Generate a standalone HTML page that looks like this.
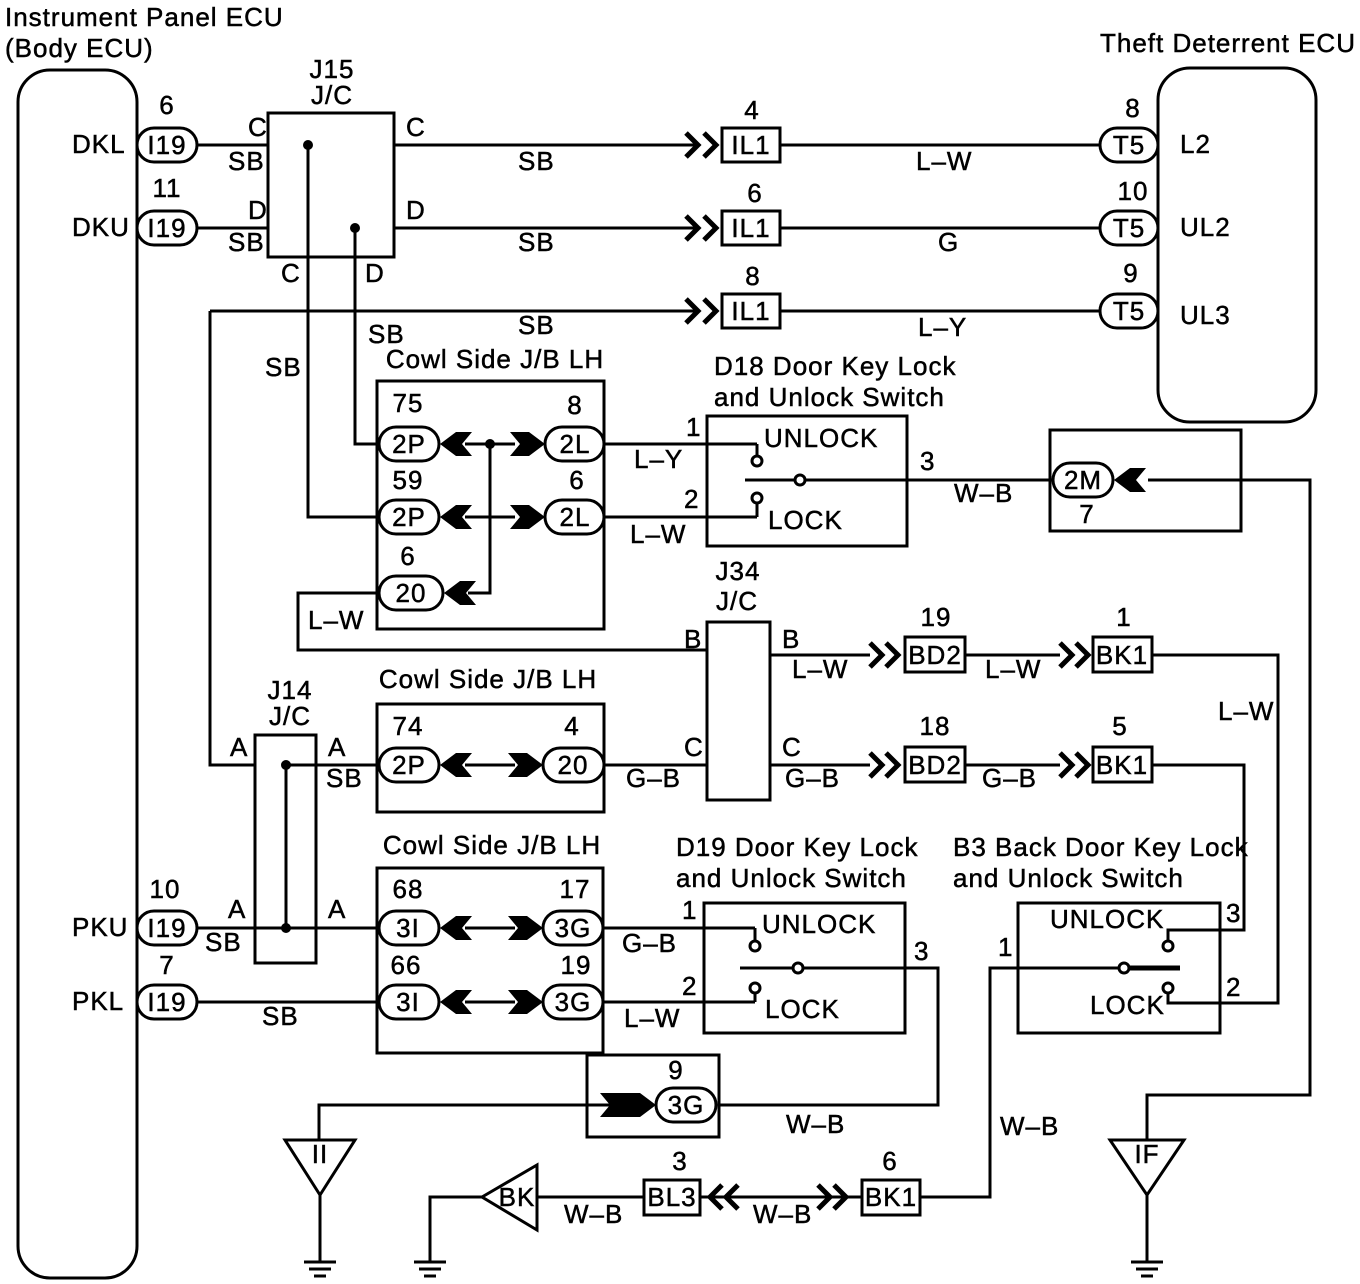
<!DOCTYPE html>
<html><head><meta charset="utf-8"><style>
html,body{margin:0;padding:0;background:#fff}
svg{display:block}
text{font-family:"Liberation Sans",sans-serif;font-size:26px;letter-spacing:1px;fill:#000;stroke:#000;stroke-width:0.5}
</style></head><body>
<svg width="1360" height="1284" viewBox="0 0 1360 1284" xmlns="http://www.w3.org/2000/svg">
<g fill="none" stroke="#000" stroke-width="3">
<rect x="18" y="70" width="119" height="1208" rx="32"/>
<rect x="1158" y="68" width="158" height="354" rx="32"/>
<rect x="268" y="113" width="126" height="144"/>
<line x1="197" y1="145" x2="268" y2="145"/><line x1="197" y1="228" x2="268" y2="228"/>
<line x1="394" y1="145" x2="700" y2="145"/><line x1="394" y1="228" x2="700" y2="228"/>
<line x1="210" y1="311" x2="700" y2="311"/>
<line x1="780" y1="145" x2="1100" y2="145"/><line x1="780" y1="228" x2="1100" y2="228"/><line x1="780" y1="311" x2="1100" y2="311"/>
<polyline points="308,145 308,517 378,517"/>
<polyline points="355,228 355,444 378,444"/>
<polyline points="210,311 210,765 255,765"/>
<g stroke-width="5">
<polyline points="686,133 698,145 686,157"/><polyline points="704,133 716,145 704,157"/>
<polyline points="686,216 698,228 686,240"/><polyline points="704,216 716,228 704,240"/>
<polyline points="686,299 698,311 686,323"/><polyline points="704,299 716,311 704,323"/>
<polyline points="870,643 882,655 870,667"/><polyline points="886,643 898,655 886,667"/>
<polyline points="1060,643 1072,655 1060,667"/><polyline points="1076,643 1088,655 1076,667"/>
<polyline points="870,753 882,765 870,777"/><polyline points="886,753 898,765 886,777"/>
<polyline points="1060,753 1072,765 1060,777"/><polyline points="1076,753 1088,765 1076,777"/>
<polyline points="738,1185 726,1197 738,1209"/><polyline points="722,1185 710,1197 722,1209"/>
<polyline points="818,1185 830,1197 818,1209"/><polyline points="834,1185 846,1197 834,1209"/>
</g>
<rect x="722" y="128" width="58" height="34"/><rect x="722" y="211" width="58" height="34"/><rect x="722" y="294" width="58" height="34"/>
<rect x="905" y="637" width="60" height="35"/><rect x="1093" y="637" width="59" height="35"/>
<rect x="905" y="747" width="60" height="35"/><rect x="1093" y="747" width="59" height="35"/>
<rect x="644" y="1180" width="56" height="35"/><rect x="862" y="1180" width="58" height="35"/>
<rect x="137" y="128" width="60" height="34" rx="17"/><rect x="137" y="211" width="60" height="34" rx="17"/>
<rect x="137" y="911" width="60" height="34" rx="17"/><rect x="137" y="985" width="60" height="34" rx="17"/>
<rect x="1100" y="128" width="58" height="34" rx="17"/><rect x="1100" y="211" width="58" height="34" rx="17"/><rect x="1100" y="294" width="58" height="34" rx="17"/>
<rect x="377" y="381" width="227" height="248"/>
<rect x="379" y="427" width="60" height="34" rx="17"/><rect x="379" y="500" width="60" height="34" rx="17"/><rect x="379" y="576" width="64" height="34" rx="17"/>
<rect x="545" y="427" width="59" height="34" rx="17"/><rect x="545" y="500" width="59" height="34" rx="17"/>
<line x1="465" y1="444" x2="515" y2="444"/><line x1="465" y1="517" x2="515" y2="517"/>
<polyline points="490,444 490,593 468,593"/>
<polyline points="377,593 298,593 298,650 707,650"/>
<line x1="604" y1="444" x2="757" y2="444"/><line x1="757" y1="444" x2="757" y2="455"/>
<line x1="604" y1="517" x2="757" y2="517"/><line x1="757" y1="517" x2="757" y2="504"/>
<rect x="707" y="416" width="200" height="130"/>
<circle cx="757" cy="461" r="5"/><circle cx="757" cy="498" r="5"/><circle cx="800" cy="480" r="5"/>
<line x1="745" y1="480" x2="795" y2="480"/><line x1="805" y1="480" x2="1052" y2="480"/>
<rect x="1050" y="430" width="191" height="101"/>
<rect x="1053" y="463" width="60" height="34" rx="17"/>
<polyline points="1148,480 1310,480 1310,1095 1147,1095 1147,1140"/>
<rect x="707" y="622" width="63" height="178"/>
<line x1="770" y1="655" x2="870" y2="655"/><line x1="965" y1="655" x2="1060" y2="655"/>
<polyline points="1152,655 1278,655 1278,1003 1220,1003"/>
<line x1="770" y1="765" x2="870" y2="765"/><line x1="965" y1="765" x2="1060" y2="765"/>
<polyline points="1152,765 1244,765 1244,930 1220,930"/>
<rect x="377" y="704" width="227" height="108"/>
<rect x="379" y="748" width="60" height="34" rx="17"/><rect x="543" y="748" width="61" height="34" rx="17"/>
<line x1="465" y1="765" x2="515" y2="765"/><line x1="604" y1="765" x2="707" y2="765"/>
<rect x="255" y="735" width="61" height="228"/>
<line x1="286" y1="765" x2="286" y2="928"/>
<line x1="286" y1="765" x2="316" y2="765"/><line x1="316" y1="765" x2="377" y2="765"/>
<line x1="197" y1="928" x2="255" y2="928"/><line x1="255" y1="928" x2="377" y2="928"/>
<line x1="197" y1="1002" x2="377" y2="1002"/>
<rect x="377" y="868" width="226" height="185"/>
<rect x="379" y="911" width="60" height="34" rx="17"/><rect x="379" y="985" width="60" height="34" rx="17"/>
<rect x="543" y="911" width="60" height="34" rx="17"/><rect x="543" y="985" width="60" height="34" rx="17"/>
<line x1="465" y1="928" x2="515" y2="928"/><line x1="465" y1="1002" x2="515" y2="1002"/>
<line x1="603" y1="928" x2="755" y2="928"/><line x1="755" y1="928" x2="755" y2="941"/>
<line x1="603" y1="1002" x2="755" y2="1002"/><line x1="755" y1="1002" x2="755" y2="993"/>
<rect x="704" y="903" width="201" height="130"/>
<circle cx="755" cy="946" r="5"/><circle cx="755" cy="988" r="5"/><circle cx="798" cy="968" r="5"/>
<line x1="740" y1="968" x2="793" y2="968"/><polyline points="803,968 938,968 938,1105 719,1105"/>
<rect x="587" y="1055" width="132" height="82"/>
<rect x="656" y="1088" width="60" height="34" rx="17"/>
<polyline points="610,1105 319,1105 319,1140"/>
<rect x="1018" y="903" width="202" height="130"/>
<circle cx="1168" cy="946" r="5"/><circle cx="1168" cy="988" r="5"/><circle cx="1124" cy="968" r="5"/>
<polyline points="1168,941 1168,930 1220,930"/><polyline points="1168,993 1168,1003 1220,1003"/>
<polyline points="920,1197 990,1197 990,968 1119,968"/>
<line x1="1129" y1="968" x2="1180" y2="968" stroke-width="5"/>
<line x1="537" y1="1197" x2="644" y2="1197"/><line x1="700" y1="1197" x2="862" y2="1197"/>
<polygon points="285,1140 355,1140 320,1195"/><line x1="320" y1="1195" x2="320" y2="1262"/>
<polygon points="1110,1140 1184,1140 1147,1195"/><line x1="1147" y1="1195" x2="1147" y2="1262"/>
<polygon points="482,1197 537,1165 537,1230"/><polyline points="482,1197 430,1197 430,1262"/>
<line x1="304" y1="1262" x2="336" y2="1262"/><line x1="309" y1="1269" x2="331" y2="1269"/><line x1="314" y1="1276" x2="326" y2="1276"/>
<line x1="1131" y1="1262" x2="1163" y2="1262"/><line x1="1136" y1="1269" x2="1158" y2="1269"/><line x1="1141" y1="1276" x2="1153" y2="1276"/>
<line x1="414" y1="1262" x2="446" y2="1262"/><line x1="419" y1="1269" x2="441" y2="1269"/><line x1="424" y1="1276" x2="436" y2="1276"/>
</g>
<g fill="#000">
<circle cx="308" cy="145" r="5"/><circle cx="355" cy="228" r="5"/><circle cx="490" cy="444" r="5"/>
<circle cx="286" cy="765" r="5"/><circle cx="286" cy="928" r="5"/>
<polygon points="440,444 456,432 472,432 462,444 472,456 456,456"/>
<polygon points="440,517 456,505 472,505 462,517 472,529 456,529"/>
<polygon points="444,593 460,581 476,581 466,593 476,605 460,605"/>
<polygon points="440,765 456,753 472,753 462,765 472,777 456,777"/>
<polygon points="440,928 456,916 472,916 462,928 472,940 456,940"/>
<polygon points="440,1002 456,990 472,990 462,1002 472,1014 456,1014"/>
<polygon points="1114,480 1130,468 1146,468 1136,480 1146,492 1130,492"/>
<polygon points="545,444 529,432 510,432 520,444 510,456 529,456"/>
<polygon points="545,517 529,505 510,505 520,517 510,529 529,529"/>
<polygon points="543,765 527,753 508,753 518,765 508,777 527,777"/>
<polygon points="543,928 527,916 508,916 518,928 508,940 527,940"/>
<polygon points="543,1002 527,990 508,990 518,1002 508,1014 527,1014"/>
<polygon points="656,1105 640,1093 600,1093 610,1105 600,1117 640,1117"/>
</g>
<g>
<text x="5" y="26">Instrument Panel ECU</text><text x="5" y="57">(Body ECU)</text>
<text x="1100" y="52">Theft Deterrent ECU</text>
<text x="72" y="153">DKL</text><text x="72" y="236">DKU</text><text x="72" y="936">PKU</text><text x="72" y="1010">PKL</text>
<g text-anchor="middle">
<text x="167" y="154">I19</text><text x="167" y="237">I19</text><text x="167" y="937">I19</text><text x="167" y="1011">I19</text>
<text x="167" y="114">6</text><text x="167" y="197">11</text><text x="165" y="898">10</text><text x="167" y="974">7</text>
<text x="332" y="78">J15</text><text x="332" y="104">J/C</text>
<text x="751" y="154">IL1</text><text x="751" y="237">IL1</text><text x="751" y="320">IL1</text>
<text x="752" y="119">4</text><text x="755" y="202">6</text><text x="753" y="285">8</text>
<text x="1129" y="154">T5</text><text x="1129" y="237">T5</text><text x="1129" y="320">T5</text>
<text x="1133" y="117">8</text><text x="1133" y="200">10</text><text x="1131" y="282">9</text>
<text x="409" y="453">2P</text><text x="409" y="526">2P</text><text x="411" y="602">20</text>
<text x="408" y="412">75</text><text x="408" y="489">59</text><text x="408" y="565">6</text>
<text x="575" y="453">2L</text><text x="575" y="526">2L</text><text x="575" y="414">8</text><text x="577" y="489">6</text>
<text x="1083" y="489">2M</text><text x="1087" y="523">7</text>
<text x="738" y="580">J34</text><text x="737" y="610">J/C</text>
<text x="935" y="664">BD2</text><text x="1122" y="664">BK1</text><text x="936" y="626">19</text><text x="1124" y="626">1</text>
<text x="935" y="774">BD2</text><text x="1122" y="774">BK1</text><text x="935" y="735">18</text><text x="1120" y="735">5</text>
<text x="409" y="774">2P</text><text x="573" y="774">20</text><text x="408" y="735">74</text><text x="572" y="735">4</text>
<text x="290" y="699">J14</text><text x="290" y="725">J/C</text>
<text x="408" y="937">3I</text><text x="408" y="1011">3I</text><text x="573" y="937">3G</text><text x="573" y="1011">3G</text>
<text x="408" y="898">68</text><text x="406" y="974">66</text><text x="575" y="898">17</text><text x="576" y="974">19</text>
<text x="686" y="1114">3G</text><text x="676" y="1079">9</text>
<text x="672" y="1206">BL3</text><text x="891" y="1206">BK1</text><text x="680" y="1170">3</text><text x="890" y="1170">6</text>
<text x="320" y="1163">II</text><text x="1147" y="1163">IF</text><text x="517" y="1206">BK</text>
<text x="495" y="368">Cowl Side J/B LH</text><text x="488" y="688">Cowl Side J/B LH</text><text x="492" y="854">Cowl Side J/B LH</text>
</g>
<text x="248" y="136">C</text><text x="228" y="170">SB</text><text x="248" y="219">D</text><text x="228" y="251">SB</text>
<text x="281" y="282">C</text><text x="365" y="282">D</text>
<text x="406" y="136">C</text><text x="406" y="219">D</text>
<text x="518" y="170">SB</text><text x="518" y="251">SB</text><text x="518" y="334">SB</text>
<text x="916" y="170">L–W</text><text x="938" y="251">G</text><text x="918" y="336">L–Y</text>
<text x="1180" y="153">L2</text><text x="1180" y="236">UL2</text><text x="1180" y="324">UL3</text>
<text x="368" y="343">SB</text><text x="265" y="376">SB</text>
<text x="714" y="375">D18 Door Key Lock</text><text x="714" y="406">and Unlock Switch</text>
<text x="764" y="447">UNLOCK</text><text x="768" y="529">LOCK</text>
<text x="686" y="436">1</text><text x="684" y="508">2</text>
<text x="634" y="468">L–Y</text><text x="630" y="543">L–W</text>
<text x="920" y="470">3</text><text x="954" y="502">W–B</text>
<text x="308" y="629">L–W</text>
<text x="684" y="648">B</text><text x="782" y="648">B</text><text x="792" y="678">L–W</text><text x="985" y="678">L–W</text><text x="1218" y="720">L–W</text>
<text x="684" y="756">C</text><text x="782" y="756">C</text><text x="626" y="787">G–B</text><text x="785" y="787">G–B</text><text x="982" y="787">G–B</text>
<text x="230" y="756">A</text><text x="328" y="756">A</text><text x="326" y="787">SB</text>
<text x="228" y="918">A</text><text x="328" y="918">A</text><text x="205" y="951">SB</text>
<text x="262" y="1025">SB</text>
<text x="676" y="856">D19 Door Key Lock</text><text x="676" y="887">and Unlock Switch</text>
<text x="762" y="933">UNLOCK</text><text x="765" y="1018">LOCK</text>
<text x="682" y="919">1</text><text x="682" y="995">2</text><text x="622" y="952">G–B</text><text x="624" y="1027">L–W</text>
<text x="914" y="960">3</text><text x="786" y="1133">W–B</text>
<text x="953" y="856">B3 Back Door Key Lock</text><text x="953" y="887">and Unlock Switch</text>
<text x="1050" y="928">UNLOCK</text><text x="1090" y="1014">LOCK</text>
<text x="998" y="956">1</text><text x="1226" y="922">3</text><text x="1226" y="996">2</text>
<text x="1000" y="1135">W–B</text>
<text x="564" y="1223">W–B</text><text x="753" y="1223">W–B</text>
</g>
</svg>
</body></html>
